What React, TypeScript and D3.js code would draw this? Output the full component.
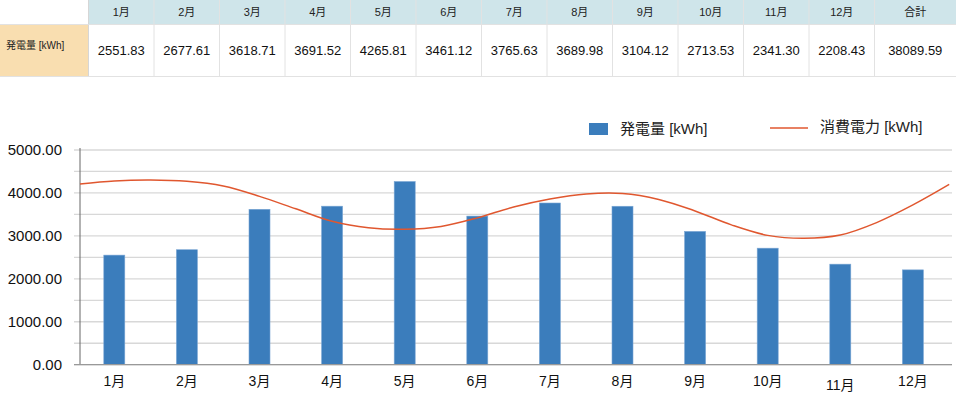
import React from "react";
import * as d3 from "d3";

const months = ["1月", "2月", "3月", "4月", "5月", "6月", "7月", "8月", "9月", "10月", "11月", "12月"];
const generation = [2551.83, 2677.61, 3618.71, 3691.52, 4265.81, 3461.12, 3765.63, 3689.98, 3104.12, 2713.53, 2341.3, 2208.43];
const totalLabel = "合計";
const total = 38089.59;
// consumption curve, sampled every half month from the left edge of the plot to the right edge
const consumption = [
  4209, 4279, 4300, 4270, 4160, 3920, 3630, 3340, 3190, 3156, 3221, 3419, 3674,
  3860, 3977, 3988, 3849, 3581, 3256, 3012, 2945, 3020, 3310, 3721, 4198,
];
const yTicks = [0, 1000, 2000, 3000, 4000, 5000];
const gridTicks = d3.range(0, 5001, 500);

const FONT = "'Liberation Sans', 'Noto Sans CJK JP', Arial, sans-serif";
const W = 956;
const H = 395;

export default function App() {
  // table layout
  const labelW = 88.5;
  const colW = 65.5;
  const headH = 24.5;
  const rowBottom = 76.5;
  const totalX = labelW + colW * 12;

  // chart layout
  const left = 80;
  const plotLeft = 78;
  const right = 952;
  const top = 150;
  const bottom = 364.7;

  const x = d3.scaleBand<string>().domain(months).range([plotLeft, plotLeft + 12 * 72.6]).paddingInner(0);
  const y = d3.scaleLinear().domain([0, 5000]).range([bottom, top]);
  const xl = d3.scaleLinear().domain([0, consumption.length - 1]).range([plotLeft, plotLeft + 12 * 72.6]);

  const line = d3
    .line<number>()
    .x((_, i) => Math.max(left, Math.min(right, xl(i))))
    .y((d) => y(d))
    .curve(d3.curveCatmullRom.alpha(0.5));

  const barW = 21;

  return (
    <svg
      width={W}
      height={H}
      style={{ position: "absolute", left: 0, top: 0, background: "#fff" }}
      fontFamily={FONT}
    >
      {/* table */}
      <rect x={labelW} y={0} width={W - labelW} height={headH} fill="#cfe5ea" />
      <rect x={0} y={headH} width={labelW} height={rowBottom - headH} fill="#f9deb0" />
      {months.map((m, i) => (
        <g key={m}>
          <text x={labelW + colW * (i + 0.5)} y={16} textAnchor="middle" fontSize={11} fill="#222">
            {m}
          </text>
          <text x={labelW + colW * (i + 0.5)} y={55} textAnchor="middle" fontSize={13} fill="#111">
            {generation[i].toFixed(2)}
          </text>
        </g>
      ))}
      <text x={(totalX + W) / 2} y={16} textAnchor="middle" fontSize={11} fill="#222">
        {totalLabel}
      </text>
      <text x={(totalX + W) / 2} y={55} textAnchor="middle" fontSize={13} fill="#111">
        {total.toFixed(2)}
      </text>
      <text x={6} y={49} fontSize={10} fill="#222">
        発電量 [kWh]
      </text>
      {d3.range(13).map((i) => (
        <line
          key={i}
          x1={labelW + colW * i}
          x2={labelW + colW * i}
          y1={0}
          y2={rowBottom}
          stroke={i === 0 ? "#d6d6d6" : "#e2e2e2"}
          strokeWidth={1}
        />
      ))}
      <line x1={labelW} x2={W} y1={headH} y2={headH} stroke="#e2e2e2" />
      <line x1={0} x2={W} y1={rowBottom} y2={rowBottom} stroke="#e2e2e2" />
      <line x1={0} x2={labelW} y1={headH} y2={headH} stroke="#e2e2e2" />

      {/* legend */}
      <rect x={589} y={123} width={19} height={12} fill="#3b7dbc" />
      <text x={620} y={134} fontSize={15} fill="#222">
        発電量 [kWh]
      </text>
      <line x1={770} x2={808} y1={128} y2={128} stroke="#e0572f" strokeWidth={1.5} />
      <text x={820} y={132} fontSize={15} fill="#222">
        消費電力 [kWh]
      </text>

      {/* grid */}
      {gridTicks.map((t) => (
        <line key={t} x1={74} x2={right} y1={y(t)} y2={y(t)} stroke="#d8d8d8" strokeWidth={1.3} />
      ))}
      {yTicks.map((t) => (
        <text key={t} x={62} y={y(t) + 5} textAnchor="end" fontSize={15} fill="#111">
          {t.toFixed(2)}
        </text>
      ))}

      {/* bars */}
      {months.map((m, i) => {
        const cx = x(m)! + x.bandwidth() / 2;
        return (
          <rect
            key={m}
            x={cx - barW / 2}
            y={y(generation[i])}
            width={barW}
            height={bottom - y(generation[i])}
            fill="#3b7dbc"
            stroke="#7aa6d4"
            strokeWidth={0.6}
          />
        );
      })}

      {/* axes */}
      <line x1={left} x2={left} y1={top - 2} y2={bottom} stroke="#666" strokeWidth={1} />
      <line x1={74} x2={right} y1={bottom} y2={bottom} stroke="#999" strokeWidth={1.3} />
      {months.map((m) => (
        <text
          key={m}
          x={x(m)! + x.bandwidth() / 2}
          y={m === "11月" ? 390 : 386}
          textAnchor="middle"
          fontSize={14}
          fill="#111"
        >
          {m}
        </text>
      ))}

      {/* consumption line */}
      <path d={line(consumption) ?? ""} fill="none" stroke="#e0572f" strokeWidth={1.5} />
    </svg>
  );
}
